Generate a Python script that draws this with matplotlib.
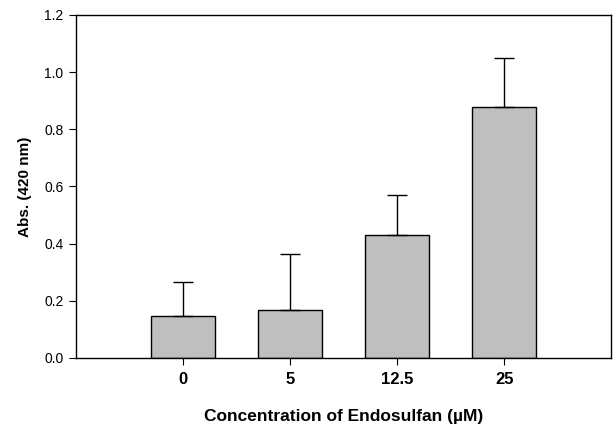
import numpy as np
import matplotlib.pyplot as plt

plt.rcParams['font.family'] = ['Liberation Sans', 'DejaVu Sans']

# data
conc = ['0', '5', '12.5', '25']
absorb = [0.147, 0.168, 0.43, 0.878]
err_up = [0.12, 0.196, 0.14, 0.172]

fig = plt.figure(figsize=(6.13, 4.24), dpi=100)
ax = fig.add_axes([0.124, 0.156, 0.873, 0.809])

x = np.arange(len(conc))
ax.bar(x, absorb, width=0.6, color='#bfbfbf', edgecolor='black', linewidth=1.0, zorder=2)
ax.errorbar(x, absorb, yerr=[np.zeros(len(err_up)), err_up], fmt='none',
            ecolor='black', elinewidth=1.0, capsize=7, capthick=1.0, zorder=3)

ax.set_xlim(-1, 4)
ax.set_ylim(0, 1.2)
yt = np.arange(0, 1.21, 0.2)
ax.set_yticks(yt)
ax.set_yticklabels([f'{v:.1f}' for v in yt], fontsize=10)
ax.set_xticks(x)
ax.set_xticklabels(conc, fontsize=12, fontweight='bold')
ax.tick_params(axis='x', length=5, pad=5)
ax.tick_params(axis='y', length=5, pad=4)

for s in ax.spines.values():
    s.set_linewidth(1.0)

ax.set_ylabel('Abs. (420 nm)', fontsize=11, fontweight='bold', labelpad=9)
ax.set_xlabel('Concentration of Endosulfan (\u00b5M)', fontsize=12.5, fontweight='bold', labelpad=16)

fig.savefig('out.png', dpi=100)
